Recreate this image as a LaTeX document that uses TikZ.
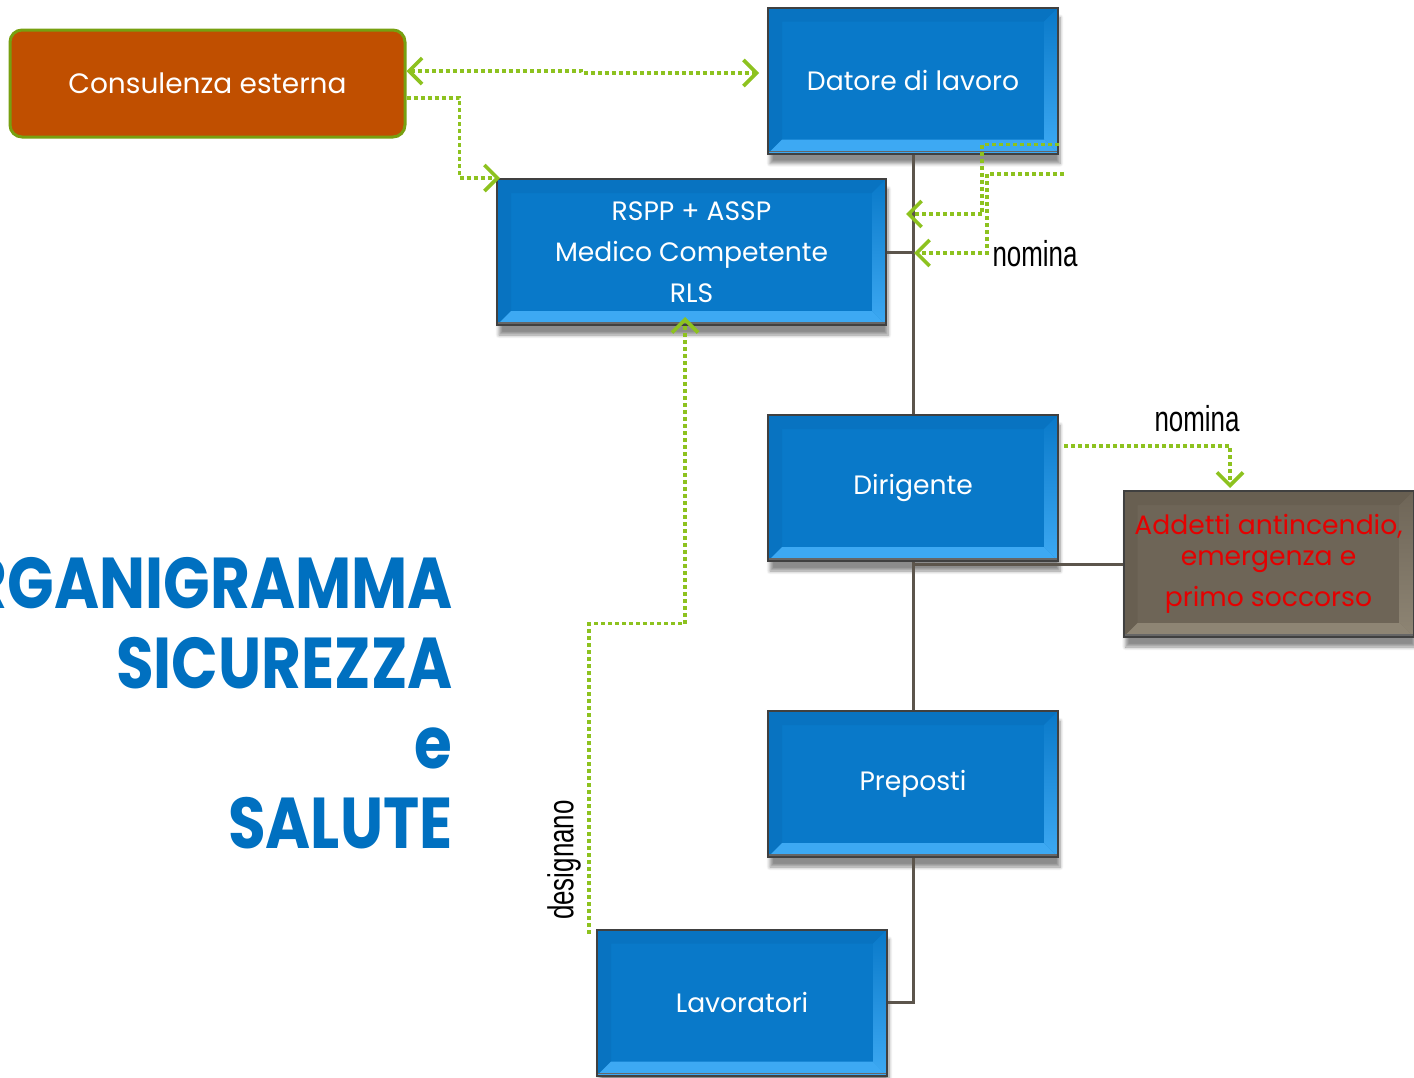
\documentclass[tikz,border=0pt]{standalone}
\usepackage{fontspec}
\usepackage{graphicx}
\newfontfamily\boxfont{Poppins}
\newfontfamily\lblfont{Liberation Sans}
\usetikzlibrary{arrows.meta,shadows.blur}
\definecolor{orgblue}{HTML}{0979C9}
\definecolor{orgblueD}{HTML}{0873C1}
\definecolor{orgblueL}{HTML}{3DA9F3}
\definecolor{addbrown}{HTML}{6E6557}
\definecolor{addbrownD}{HTML}{685F51}
\definecolor{addbrownL}{HTML}{8E8574}
\definecolor{consfill}{HTML}{C04F00}
\definecolor{consline}{HTML}{77A010}
\definecolor{nomgreen}{HTML}{8DC21F}
\definecolor{linkgray}{HTML}{5C554C}
\definecolor{titleblue}{HTML}{0070C0}
\def\pb{path picture bounding box}
\tikzset{> = {Straight Barb[length=6.5pt,width=13pt]},
  bevel/.style n args={3}{fill=#1,
    path picture={
      \fill[#2] (\pb.north west) -- (\pb.north east) -- ([shift={(-7pt,-7pt)}]\pb.north east) -- ([shift={(7pt,-7pt)}]\pb.north west) -- cycle;
      \fill[#2] (\pb.north west) -- (\pb.south west) -- ([shift={(7pt,7pt)}]\pb.south west) -- ([shift={(7pt,-7pt)}]\pb.north west) -- cycle;
      \shade[top color=#1, bottom color=#3] (\pb.north east) -- (\pb.south east) -- ([shift={(-7pt,7pt)}]\pb.south east) -- ([shift={(-7pt,-7pt)}]\pb.north east) -- cycle;
      \fill[#3] (\pb.south west) -- (\pb.south east) -- ([shift={(-7pt,7pt)}]\pb.south east) -- ([shift={(7pt,7pt)}]\pb.south west) -- cycle;
      \draw[black!60, line width=0.8pt] ([yshift=1pt]\pb.south west) -- ([yshift=1pt]\pb.south east);
    }},
  box/.style={draw=black!75, line width=1pt, minimum width=145pt, minimum height=73pt,
    text=white, font=\boxfont\fontsize{13.3}{20.5}\selectfont, align=center,
    blur shadow={shadow xshift=1pt, shadow yshift=-5pt, shadow blur steps=6, shadow opacity=45}},
  bluebox/.style={box, bevel={orgblue}{orgblueD}{orgblueL}},
  link/.style={draw=linkgray, line width=1.5pt},
  nom/.style={draw=nomgreen, line width=1.8pt, dash pattern=on 2pt off 1.5pt},
  lbl/.style={font=\lblfont\fontsize{18}{18}\selectfont, inner sep=0pt}}
\newcommand\narrow[1]{\scalebox{0.72}[1]{#1}}

\begin{document}
\begin{tikzpicture}[x=0.5pt,y=-0.5pt]
  \useasboundingbox (0,0) rectangle (1414,1077);
  % title
  \node[anchor=east, inner sep=0pt, text=titleblue, font=\boxfont\bfseries\fontsize{36}{40}\selectfont] (title) at (453,712)
    {\scalebox{0.85}[1]{\begin{tabular}{@{}r@{}}ORGANIGRAMMA\\SICUREZZA\\e\\SALUTE\end{tabular}}};
  % boxes
  \node[draw=consline, line width=1.5pt, fill=consfill, rounded corners=6pt, minimum width=197.5pt, minimum height=53.5pt,
    text=white, font=\boxfont\fontsize{14}{16}\selectfont] (cons) at (207.5,83.5) {Consulenza esterna};
  \node[bluebox] (datore) at (913,80.5) {Datore di lavoro};
  \node[bluebox, minimum width=194.5pt] (rspp) at (691.5,252) {RSPP + ASSP\\Medico Competente\\RLS};
  \node[bluebox] (dirig) at (913,488) {Dirigente};
  \node[box, bevel={addbrown}{addbrownD}{addbrownL}, text={red!90!black}, font=\boxfont\fontsize{13.3}{15.5}\selectfont] (add) at (1268.5,564)
    {Addetti antincendio,\\emergenza e\\[5pt]primo soccorso};
  \node[bluebox] (prep) at (913,784) {Preposti};
  \node[bluebox] (lav) at (742,1002.5) {Lavoratori};
  % hierarchy
  \draw[link] (datore.south) -- (dirig.north);
  \draw[link] (rspp.east) -- (rspp.east -| datore.south);
  \draw[link] (dirig.south) -- (prep.north);
  \draw[link] (add.west) -- (add.west -| dirig.south);
  \draw[link] (prep.south) |- (lav.east);
  % nomine
  \coordinate (n1) at (906,214);
  \coordinate (s2) at (1064,174);
  \coordinate (n2) at (914,253);
  \draw[nom, <->] ([yshift=6.25pt]cons.east) -- ++(175,0) -- ++(0,2) -- ([xshift=-4pt,yshift=3.75pt]datore.west);
  \draw[nom, ->] ([yshift=-7.25pt]cons.east) -- ++(53,0) |- ([xshift=2pt]rspp.north west);
  \draw[nom, ->] ([yshift=5pt]datore.south east) -- ++(-77,0) |- (n1);
  \draw[nom, ->] (s2) -- ++(-77,0) |- (n2);
  \draw[nom, ->] ([xshift=2.5pt,yshift=21pt]dirig.east) -| ([xshift=-19.25pt,yshift=1pt]add.north);
  \draw[nom, ->] ([xshift=-3.5pt,yshift=-2.5pt]lav.north west) -- ++(0,-310) -| ([xshift=-3.25pt,yshift=4.5pt]rspp.south);
  % labels
  \node[lbl] (l1) at (1035,254) {\narrow{nomina}};
  \node[lbl] (l2) at (1197,419) {\narrow{nomina}};
  \node[lbl, rotate=90] (l3) at (564,860) {\narrow{designano}};
\end{tikzpicture}
\end{document}
